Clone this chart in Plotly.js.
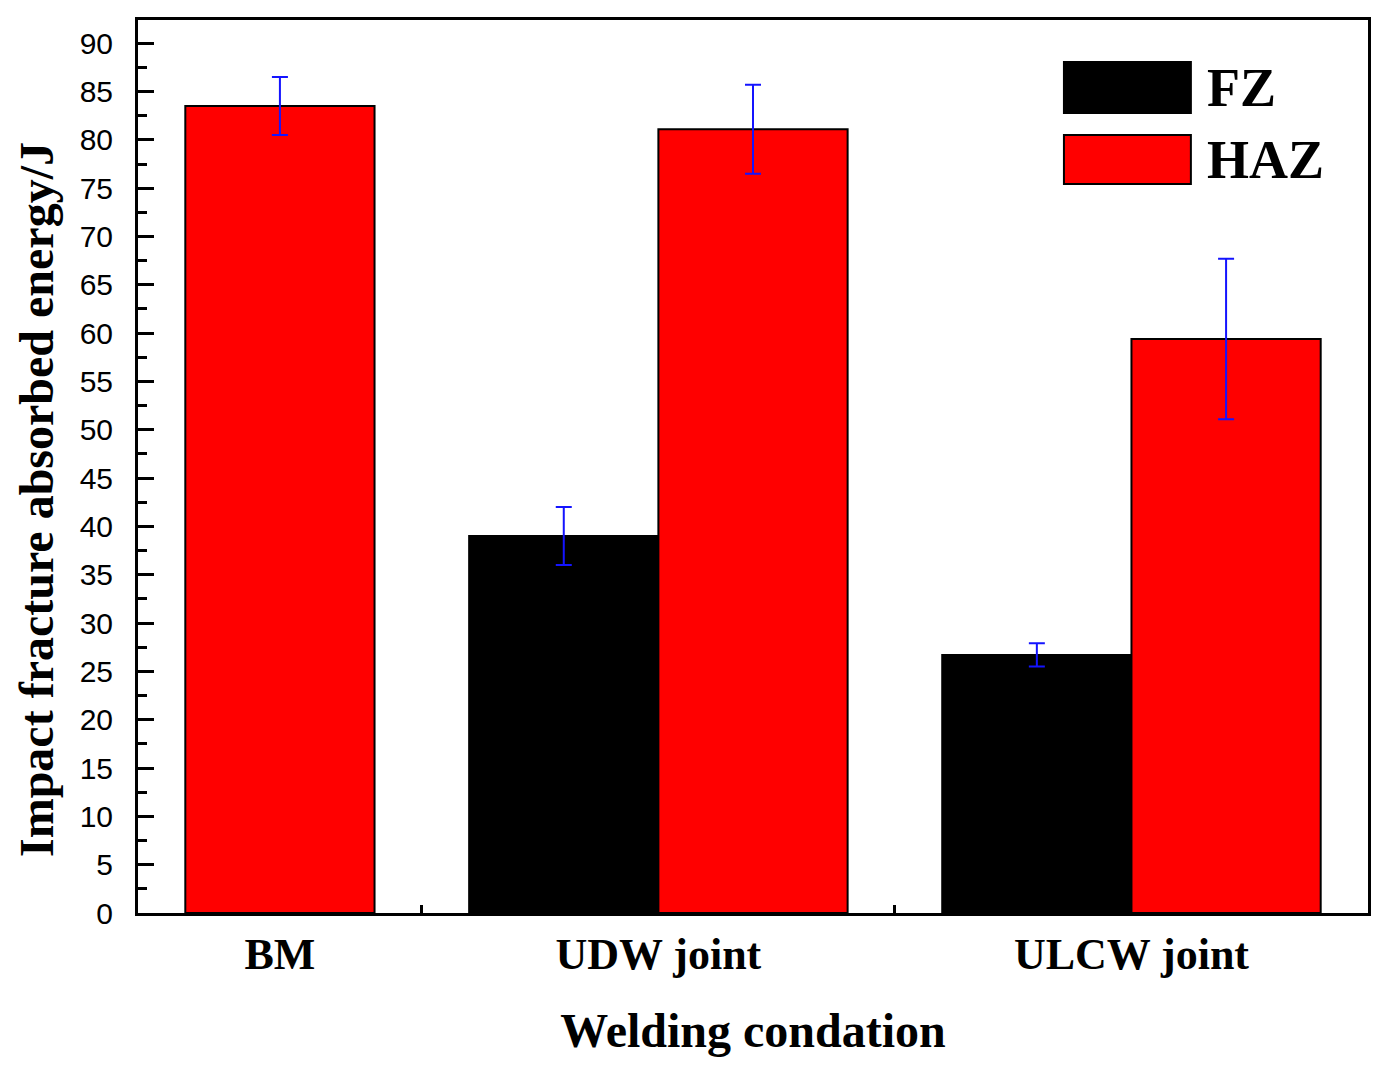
<!DOCTYPE html>
<html>
<head>
<meta charset="utf-8">
<script src="https://cdn.plot.ly/plotly-3.0.1.min.js"></script>
<style>
  html, body { margin: 0; padding: 0; background: #fff; }
  #chart { width: 1386px; height: 1072px; }
</style>
</head>
<body>
<div id="chart"></div>
<script>
// data
const categories = ['BM', 'UDW joint', 'ULCW joint'];
const catPos = [0, 1, 2];
const fzValues = [null, 39.0, 26.7];
const fzErrors = [null, 3.0, 1.2];
const hazValues = [83.5, 81.1, 59.4];
const hazErrors = [3.0, 4.6, 8.3];
const labelPos = [0.2, 1, 2];       // BM has no FZ bar, so its label sits under the HAZ bar
const dividerPos = [0.5, 1.5];
const yTicks = [0, 5, 10, 15, 20, 25, 30, 35, 40, 45, 50, 55, 60, 65, 70, 75, 80, 85, 90];

const serif = 'Liberation Serif, Times New Roman, serif';
const sans = 'Liberation Sans, Arial, sans-serif';

const traces = [
    {
        type: 'bar',
        name: 'FZ',
        x: catPos,
        y: fzValues,
        marker: { color: '#000000', line: { color: '#000000', width: 2 } },
        error_y: { type: 'data', array: fzErrors, visible: true, color: '#1414ff', thickness: 2, width: 8 }
    },
    {
        type: 'bar',
        name: 'HAZ',
        x: catPos,
        y: hazValues,
        marker: { color: '#ff0000', line: { color: '#000000', width: 2 } },
        error_y: { type: 'data', array: hazErrors, visible: true, color: '#1414ff', thickness: 2, width: 8 }
    }
];

const layout = {
    width: 1386,
    height: 1072,
    margin: { l: 138, r: 18, t: 20, b: 159 },
    paper_bgcolor: '#ffffff',
    plot_bgcolor: '#ffffff',
    barmode: 'group',
    bargap: 0.2,
    bargroupgap: 0,
    showlegend: false,
    xaxis: {
        range: [-0.1, 2.5],
        tickvals: labelPos,
        ticktext: categories,
        ticks: '',
        tickfont: { family: serif, size: 44, color: '#000', weight: 700 },
        minor: { tickvals: dividerPos, ticks: 'inside', ticklen: 8, tickwidth: 3, tickcolor: '#000' },
        showgrid: false,
        zeroline: false,
        showline: true,
        linecolor: '#000',
        linewidth: 3,
        mirror: true,
        title: {
            text: 'Welding condation',
            font: { family: serif, size: 48, color: '#000', weight: 700 },
            standoff: 36
        }
    },
    yaxis: {
        range: [0, 92.4],
        tickvals: yTicks,
        ticks: 'inside',
        ticklen: 16,
        tickwidth: 3,
        tickcolor: '#000',
        minor: { dtick: 2.5, ticks: 'inside', ticklen: 9, tickwidth: 3, tickcolor: '#000' },
        tickfont: { family: sans, size: 30, color: '#000' },
        ticklabelstandoff: 16,
        showgrid: false,
        zeroline: false,
        showline: true,
        linecolor: '#000',
        linewidth: 3,
        mirror: true
    },
    // legend keys drawn by hand to match the large boxes in the figure
    shapes: [
        { type: 'rect', xref: 'paper', yref: 'paper', x0: 0.7528, x1: 0.856, y0: 0.8959, y1: 0.953,
          fillcolor: '#000000', line: { color: '#000000', width: 2 } },
        { type: 'rect', xref: 'paper', yref: 'paper', x0: 0.7528, x1: 0.856, y0: 0.8163, y1: 0.8712,
          fillcolor: '#ff0000', line: { color: '#000000', width: 2 } }
    ],
    annotations: [
        { xref: 'paper', yref: 'paper', x: 0.8675, y: 0.9238, xanchor: 'left', yanchor: 'middle',
          text: 'FZ', showarrow: false, font: { family: serif, size: 54, color: '#000', weight: 700 } },
        { xref: 'paper', yref: 'paper', x: 0.8675, y: 0.8432, xanchor: 'left', yanchor: 'middle',
          text: 'HAZ', showarrow: false, font: { family: serif, size: 54, color: '#000', weight: 700 } },
        // y-axis title, sits a little below the plot centre in the original
        { xref: 'paper', yref: 'paper', x: -0.0821, y: 0.4625, xanchor: 'center', yanchor: 'middle',
          textangle: -90, text: 'Impact fracture absorbed energy/J', showarrow: false,
          font: { family: serif, size: 48, color: '#000', weight: 700 } }
    ]
};

Plotly.newPlot('chart', traces, layout, { staticPlot: true });
</script>
</body>
</html>
